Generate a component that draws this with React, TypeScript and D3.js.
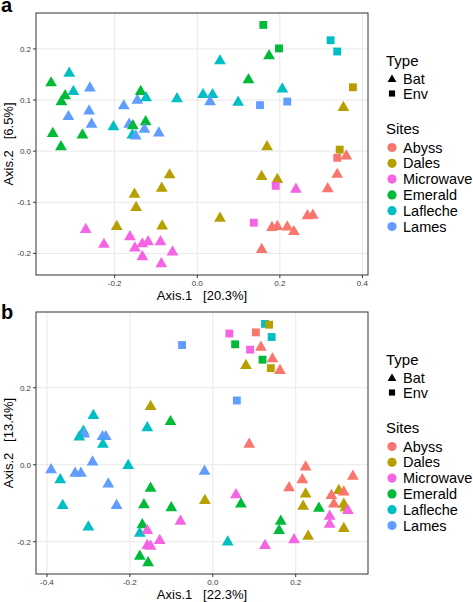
import React from "react";
import * as d3 from "d3";

const SITES = ["Abyss", "Dales", "Microwave", "Emerald", "Lafleche", "Lames"];
const SITE_COLORS = ["#F8766D", "#B79F00", "#F564E3", "#00BA38", "#00BFC4", "#619CFF"];
const TYPES = ["Bat", "Env"];

// [x, y, siteIndex, typeIndex]  (type 0 = Bat triangle, 1 = Env square)
const panelAPoints: [number, number, number, number][] = [
  [-0.354, 0.135, 3, 0], [-0.310, 0.154, 4, 0], [-0.320, 0.110, 3, 0], [-0.300, 0.118, 4, 0],
  [-0.329, 0.098, 3, 0], [-0.260, 0.125, 5, 0], [-0.312, 0.069, 5, 0], [-0.262, 0.080, 5, 0],
  [-0.256, 0.054, 5, 0], [-0.350, 0.036, 3, 0], [-0.278, 0.033, 3, 0], [-0.330, 0.010, 3, 0],
  [-0.203, 0.049, 4, 0], [-0.178, 0.090, 5, 0], [-0.165, 0.054, 5, 0], [-0.156, 0.051, 3, 0],
  [-0.157, 0.033, 4, 0], [-0.149, 0.031, 5, 0], [-0.145, 0.101, 5, 0], [-0.137, 0.118, 3, 0],
  [-0.124, 0.106, 4, 0], [-0.125, 0.059, 3, 0], [-0.128, 0.044, 5, 0], [-0.093, 0.037, 5, 0],
  [-0.049, 0.104, 4, 0], [0.014, 0.112, 4, 0], [0.037, 0.112, 4, 0], [0.031, 0.098, 5, 0],
  [0.055, 0.178, 4, 0], [0.099, 0.097, 4, 0],
  [0.160, 0.247, 3, 1], [0.198, 0.201, 3, 1], [0.323, 0.217, 4, 1], [0.339, 0.195, 4, 1],
  [0.174, 0.188, 3, 0], [0.124, 0.141, 3, 0], [0.206, 0.123, 4, 0],
  [0.152, 0.090, 5, 1], [0.218, 0.097, 5, 1],
  [0.377, 0.125, 1, 1], [0.354, 0.087, 1, 0], [0.169, 0.010, 1, 0], [0.345, 0.003, 1, 1],
  [0.339, -0.013, 0, 1], [0.361, -0.008, 0, 0], [0.339, -0.044, 0, 0],
  [0.156, -0.048, 1, 0], [0.194, -0.054, 1, 0], [0.190, -0.068, 2, 1], [0.239, -0.073, 2, 0],
  [0.316, -0.072, 0, 0], [0.055, -0.130, 1, 0], [0.137, -0.140, 2, 1],
  [0.267, -0.125, 0, 0], [0.280, -0.124, 0, 0], [0.181, -0.148, 0, 0], [0.194, -0.146, 0, 0],
  [0.218, -0.147, 0, 0], [0.234, -0.156, 0, 0], [0.156, -0.191, 0, 0],
  [-0.067, -0.045, 1, 0], [-0.086, -0.071, 1, 0], [-0.152, -0.083, 1, 0], [-0.148, -0.109, 1, 0],
  [-0.195, -0.146, 1, 0], [-0.085, -0.145, 1, 0],
  [-0.270, -0.152, 2, 0], [-0.226, -0.181, 2, 0], [-0.163, -0.166, 2, 0], [-0.151, -0.188, 2, 0],
  [-0.133, -0.180, 2, 0], [-0.119, -0.176, 2, 0], [-0.089, -0.176, 2, 0], [-0.133, -0.205, 2, 0],
  [-0.087, -0.219, 2, 0], [-0.060, -0.196, 2, 0],
];

const panelBPoints: [number, number, number, number][] = [
  [0.040, 0.341, 2, 1], [0.054, 0.313, 3, 1], [-0.074, 0.311, 5, 1], [0.058, 0.167, 5, 1],
  [0.126, 0.366, 4, 1], [0.136, 0.364, 1, 1], [0.104, 0.344, 0, 1], [0.142, 0.332, 4, 1],
  [0.090, 0.299, 2, 1], [0.116, 0.307, 0, 0], [0.120, 0.273, 3, 1], [0.144, 0.277, 0, 0],
  [0.080, 0.260, 1, 0], [0.140, 0.251, 1, 1], [0.162, 0.247, 0, 0],
  [-0.150, 0.153, 1, 0], [-0.288, 0.130, 4, 0], [-0.102, 0.114, 3, 0], [-0.158, 0.098, 4, 0],
  [-0.312, 0.089, 4, 0], [-0.310, 0.082, 5, 0], [-0.322, 0.074, 4, 0], [-0.266, 0.075, 5, 0],
  [-0.258, 0.075, 5, 0], [-0.265, 0.055, 4, 0],
  [-0.390, -0.011, 5, 0], [-0.368, -0.037, 4, 0], [-0.332, -0.020, 5, 0], [-0.318, -0.020, 5, 0],
  [-0.290, 0.009, 5, 0], [-0.204, 0.000, 4, 0], [-0.252, -0.048, 5, 0], [-0.362, -0.104, 4, 0],
  [-0.232, -0.104, 5, 0], [-0.300, -0.160, 4, 0],
  [-0.150, -0.059, 3, 0], [-0.166, -0.102, 3, 0], [-0.100, -0.110, 3, 0], [-0.078, -0.145, 2, 0],
  [-0.170, -0.154, 3, 0], [-0.176, -0.176, 4, 0], [-0.158, -0.169, 2, 0], [-0.158, -0.208, 2, 0],
  [-0.150, -0.210, 2, 0], [-0.128, -0.195, 2, 0], [-0.176, -0.236, 3, 0], [-0.156, -0.253, 3, 0],
  [-0.020, -0.015, 5, 0], [-0.019, -0.091, 1, 0], [0.056, -0.076, 2, 0], [0.036, -0.199, 4, 0],
  [0.088, 0.055, 0, 0], [0.068, -0.100, 3, 0],
  [0.224, -0.004, 0, 0], [0.338, -0.028, 0, 0], [0.216, -0.037, 0, 0], [0.184, -0.058, 0, 0],
  [0.224, -0.074, 1, 0], [0.304, -0.065, 1, 0], [0.316, -0.069, 0, 0], [0.286, -0.078, 0, 0],
  [0.292, -0.100, 0, 0], [0.218, -0.106, 1, 0], [0.316, -0.101, 1, 0], [0.256, -0.111, 3, 0],
  [0.320, -0.110, 1, 0], [0.326, -0.117, 2, 0], [0.282, -0.132, 2, 0], [0.282, -0.153, 2, 0],
  [0.164, -0.145, 3, 0], [0.160, -0.169, 3, 0], [0.316, -0.164, 1, 0], [0.230, -0.184, 1, 0],
  [0.196, -0.193, 2, 0], [0.126, -0.208, 2, 0],
];

const panelAXTicks = [-0.2, 0.0, 0.2, 0.4];
const panelAYTicks = [-0.2, -0.1, 0.0, 0.1, 0.2];
const panelBXTicks = [-0.4, -0.2, 0.0, 0.2];
const panelBYTicks = [-0.2, 0.0, 0.2];

const panelAXTitle = "Axis.1   [20.3%]";
const panelAYTitle = "Axis.2   [6.5%]";
const panelBXTitle = "Axis.1   [22.3%]";
const panelBYTitle = "Axis.2   [13.4%]";

const FONT = "'Liberation Sans', Arial, Helvetica, sans-serif";
const fmt = (v: number) => d3.format(".1f")(v).replace("\u2212", "-");

function expand(vals: number[]): [number, number] {
  const [lo, hi] = d3.extent(vals) as [number, number];
  const pad = (hi - lo) * 0.05;
  return [lo - pad, hi + pad];
}

const triPath = d3.symbol(d3.symbolTriangle, 60)()!;
const sqPath = d3.symbol(d3.symbolSquare, 62)()!;
const legTri = d3.symbol(d3.symbolTriangle, 34)()!;
const legSq = d3.symbol(d3.symbolSquare, 38)()!;

function Panel({ top, label, labelY, points, xTicks, yTicks, xTitle, yTitle }: any) {
  const left = 36, right = 368, height = 262;
  const bottom = top + height;
  const x = d3.scaleLinear().domain(expand(points.map((p: any) => p[0]))).range([left, right]);
  const y = d3.scaleLinear().domain(expand(points.map((p: any) => p[1]))).range([bottom, top]);
  const legX = 386;
  const legTop = top + 53;
  return (
    <g>
      <text x={1} y={labelY} fontSize={20} fontWeight="bold" fontFamily={FONT}>{label}</text>
      <rect x={left} y={top} width={right - left} height={height} fill="#ffffff" />
      {xTicks.map((t: number) => (
        <line key={"gx" + t} x1={x(t)} x2={x(t)} y1={top} y2={bottom} stroke="#e8e8e8" strokeWidth={1} />
      ))}
      {yTicks.map((t: number) => (
        <line key={"gy" + t} x1={left} x2={right} y1={y(t)} y2={y(t)} stroke="#e8e8e8" strokeWidth={1} />
      ))}
      {points.map((p: any, i: number) => (
        <path
          key={i}
          d={p[3] === 0 ? triPath : sqPath}
          transform={`translate(${x(p[0])},${y(p[1]) + (p[3] === 0 ? 0.8 : 0)})`}
          fill={SITE_COLORS[p[2]]}
        />
      ))}
      <rect x={left} y={top} width={right - left} height={height} fill="none" stroke="#333333" strokeWidth={1} />
      {xTicks.map((t: number) => (
        <g key={"tx" + t}>
          <line x1={x(t)} x2={x(t)} y1={bottom} y2={bottom + 3} stroke="#333333" strokeWidth={1} />
          <text x={x(t)} y={bottom + 10.5} fontSize={8} fill="#3a3a3a" textAnchor="middle" fontFamily={FONT}>{fmt(t)}</text>
        </g>
      ))}
      {yTicks.map((t: number) => (
        <g key={"ty" + t}>
          <line x1={left - 3} x2={left} y1={y(t)} y2={y(t)} stroke="#333333" strokeWidth={1} />
          <text x={left - 5} y={y(t) + 2.9} fontSize={8} fill="#3a3a3a" textAnchor="end" fontFamily={FONT}>{fmt(t)}</text>
        </g>
      ))}
      <text x={(left + right) / 2} y={bottom + 25} fontSize={13} textAnchor="middle" fontFamily={FONT} style={{ whiteSpace: "pre" }}>{xTitle}</text>
      <text transform={`translate(13,${(top + bottom) / 2}) rotate(-90)`} fontSize={13} textAnchor="middle" fontFamily={FONT} style={{ whiteSpace: "pre" }}>{yTitle}</text>
      <text x={legX} y={legTop} fontSize={15} fontFamily={FONT}>Type</text>
      {TYPES.map((t, i) => (
        <g key={t} transform={`translate(${legX + 6},${legTop + 13 + i * 14.5})`}>
          <path d={i === 0 ? legTri : legSq} transform={i === 0 ? "translate(0,0.5)" : ""} fill="#000" />
          <text x={11} y={5} fontSize={14.5} fontFamily={FONT}>{t}</text>
        </g>
      ))}
      <text x={legX} y={legTop + 68} fontSize={15} fontFamily={FONT}>Sites</text>
      {SITES.map((s, i) => (
        <g key={s} transform={`translate(${legX + 6},${legTop + 81.5 + i * 15.8})`}>
          <circle r={4.6} fill={SITE_COLORS[i]} />
          <text x={11} y={5} fontSize={14.5} fontFamily={FONT}>{s}</text>
        </g>
      ))}
    </g>
  );
}

export default function App() {
  return (
    <svg width={473} height={602} style={{ position: "absolute", left: 0, top: 0, background: "#fff" }}>
      <rect width={473} height={602} fill="#fff" />
      <Panel top={13} label="a" labelY={11.5} points={panelAPoints} xTicks={panelAXTicks} yTicks={panelAYTicks} xTitle={panelAXTitle} yTitle={panelAYTitle} />
      <Panel top={312} label="b" labelY={319} points={panelBPoints} xTicks={panelBXTicks} yTicks={panelBYTicks} xTitle={panelBXTitle} yTitle={panelBYTitle} />
    </svg>
  );
}
